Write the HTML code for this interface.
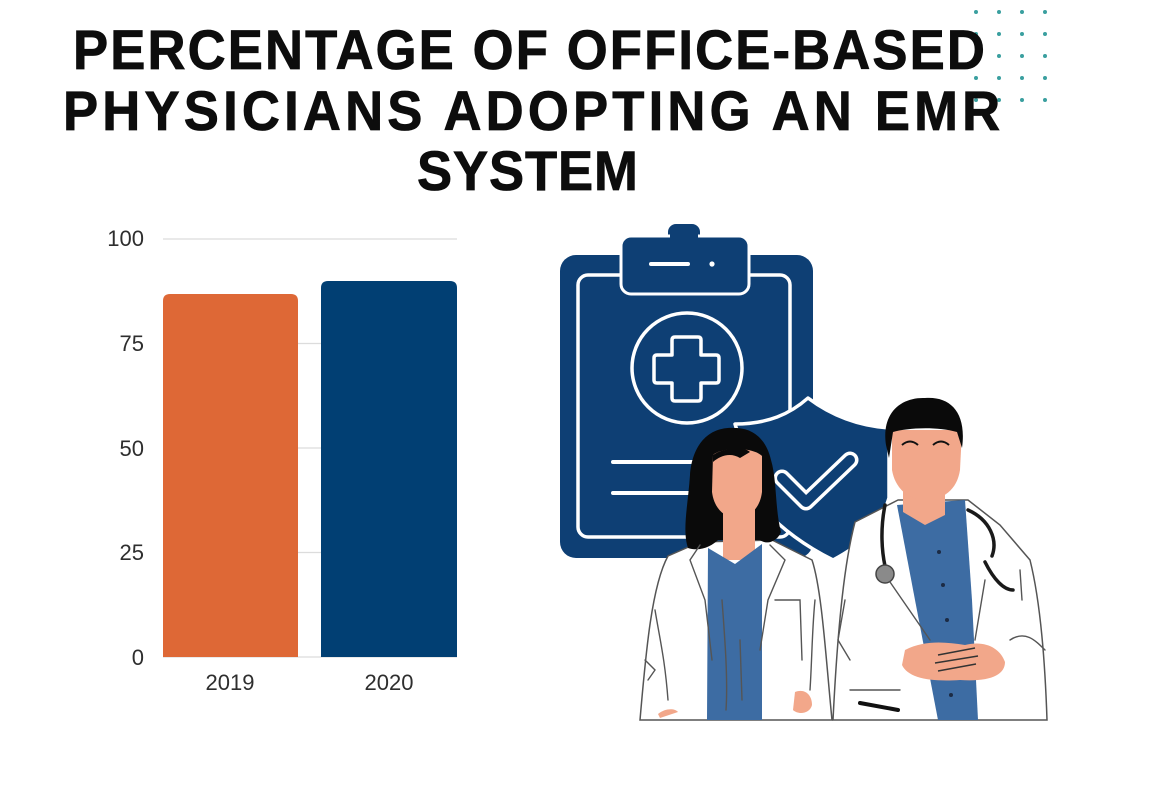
<!DOCTYPE html>
<html>
<head>
<meta charset="utf-8">
<style>
  html,body{margin:0;padding:0;background:#ffffff;}
  body{width:1166px;height:800px;overflow:hidden;}
  svg{display:block;}
  .t{font-family:"Liberation Sans",Arial,sans-serif;font-weight:bold;fill:#0d0d0d;font-size:56px;stroke:#0d0d0d;stroke-width:0.8px;}
  .ax{font-family:"Liberation Sans",Arial,sans-serif;font-size:22px;fill:#2e2e2e;}
</style>
</head>
<body>
<svg width="1166" height="800" viewBox="0 0 1166 800" xmlns="http://www.w3.org/2000/svg">
  <rect width="1166" height="800" fill="#ffffff"/>

  <!-- teal dots -->
  <g fill="#3a9f9f">
    <circle cx="976" cy="12" r="2"/><circle cx="999" cy="12" r="2"/><circle cx="1022" cy="12" r="2"/><circle cx="1045" cy="12" r="2"/>
    <circle cx="976" cy="34" r="2"/><circle cx="999" cy="34" r="2"/><circle cx="1022" cy="34" r="2"/><circle cx="1045" cy="34" r="2"/>
    <circle cx="976" cy="56" r="2"/><circle cx="999" cy="56" r="2"/><circle cx="1022" cy="56" r="2"/><circle cx="1045" cy="56" r="2"/>
    <circle cx="976" cy="78" r="2"/><circle cx="999" cy="78" r="2"/><circle cx="1022" cy="78" r="2"/><circle cx="1045" cy="78" r="2"/>
    <circle cx="976" cy="100" r="2"/><circle cx="999" cy="100" r="2"/><circle cx="1022" cy="100" r="2"/><circle cx="1045" cy="100" r="2"/>
  </g>

  <!-- title -->
  <g transform="scale(0.94,1)">
    <text class="t" x="77.7" y="69" textLength="970" lengthAdjust="spacing">PERCENTAGE OF OFFICE-BASED</text>
    <text class="t" x="67.0" y="130" textLength="997" lengthAdjust="spacing">PHYSICIANS ADOPTING AN EMR</text>
    <text class="t" x="443.6" y="190" textLength="235" lengthAdjust="spacing">SYSTEM</text>
  </g>

  <!-- chart gridlines -->
  <g stroke="#dcdcdc" stroke-width="1.2">
    <line x1="163" y1="239" x2="457" y2="239"/>
    <line x1="163" y1="343.5" x2="457" y2="343.5"/>
    <line x1="163" y1="448" x2="457" y2="448"/>
    <line x1="163" y1="552.5" x2="457" y2="552.5"/>
    <line x1="163" y1="657" x2="457" y2="657"/>
  </g>
  <!-- bars -->
  <path d="M163 657 L163 301 Q163 294 170 294 L291 294 Q298 294 298 301 L298 657 Z" fill="#de6836"/>
  <path d="M321 657 L321 288 Q321 281 328 281 L450 281 Q457 281 457 288 L457 657 Z" fill="#013f73"/>

  <!-- y labels -->
  <g class="ax" text-anchor="end">
    <text x="144" y="246">100</text>
    <text x="144" y="351">75</text>
    <text x="144" y="456">50</text>
    <text x="144" y="560">25</text>
    <text x="144" y="665">0</text>
  </g>
  <g class="ax" text-anchor="middle">
    <text x="230" y="690">2019</text>
    <text x="389" y="690">2020</text>
  </g>

  <!-- clipboard -->
  <rect x="560" y="255" width="253" height="303" rx="16" fill="#0e3f74"/>
  <rect x="578" y="275" width="212" height="262" rx="10" fill="none" stroke="#ffffff" stroke-width="3.5"/>
  <rect x="668" y="224" width="32" height="22" rx="8" fill="#0e3f74"/>
  <rect x="621" y="236" width="128" height="58" rx="10" fill="#0e3f74" stroke="#ffffff" stroke-width="3"/>
  <rect x="670" y="230" width="28" height="10" fill="#0e3f74"/>
  <line x1="651" y1="264" x2="688" y2="264" stroke="#ffffff" stroke-width="4" stroke-linecap="round"/>
  <circle cx="712" cy="264" r="2.6" fill="#ffffff"/>
  <circle cx="687" cy="368" r="55" fill="none" stroke="#ffffff" stroke-width="3.5"/>
  <path d="M672 340 Q672 337 675 337 L698 337 Q701 337 701 340 L701 355 L716 355 Q719 355 719 358 L719 380 Q719 383 716 383 L701 383 L701 398 Q701 401 698 401 L675 401 Q672 401 672 398 L672 383 L657 383 Q654 383 654 380 L654 358 Q654 355 657 355 L672 355 Z" fill="none" stroke="#ffffff" stroke-width="3.5" stroke-linejoin="round"/>
  <line x1="613" y1="462" x2="705" y2="462" stroke="#ffffff" stroke-width="4" stroke-linecap="round"/>
  <line x1="613" y1="493" x2="705" y2="493" stroke="#ffffff" stroke-width="4" stroke-linecap="round"/>

  <!-- shield -->
  <path d="M735 424 C768 424 790 414 808 398 C832 416 860 426 889 428 L889 498 C880 528 860 546 833 560 C805 546 780 528 760 505 Z" fill="#0e3f74" stroke="#ffffff" stroke-width="3.5" stroke-linejoin="round"/>
  <polyline points="782,478 806,502 850,460" fill="none" stroke="#ffffff" stroke-width="17" stroke-linecap="round" stroke-linejoin="round"/>
  <polyline points="782,478 806,502 850,460" fill="none" stroke="#0e3f74" stroke-width="10" stroke-linecap="round" stroke-linejoin="round"/>

  <!-- woman -->
  <path d="M700 542 L668 556 C652 585 646 650 640 720 L832 720 C826 660 822 590 812 560 L772 540 Z" fill="#ffffff" stroke="#555" stroke-width="1.5"/>
  <path d="M735 428 C706 426 692 448 690 475 C688 505 682 530 688 548 C700 552 712 546 718 540 L760 540 C768 546 778 540 781 532 C775 510 777 480 771 460 C766 438 752 428 735 428 Z" fill="#0a0a0a"/>
  <rect x="723" y="500" width="32" height="60" fill="#f2a78a"/>
  <path d="M713 455 C720 448 752 446 762 456 L762 492 C760 508 750 518 737 518 C724 518 714 508 712 492 Z" fill="#f2a78a"/>
  <path d="M713 455 C722 448 745 446 750 452 L740 458 C730 452 720 456 713 462 Z" fill="#0a0a0a"/>
  <path d="M708 548 L735 564 L762 544 L762 720 L707 720 Z" fill="#3d6ca3"/>
  <g fill="none" stroke="#555" stroke-width="1.4" stroke-linecap="round">
    <path d="M700 545 L690 560 L705 600 L712 660"/>
    <path d="M770 545 L785 560 L768 600 L760 650"/>
    <path d="M775 600 L800 600 L802 660"/>
    <path d="M655 610 C660 640 665 660 668 700"/>
    <path d="M645 660 L655 670 L648 680"/>
    <path d="M815 600 C812 630 812 660 810 690"/>
    <path d="M722 600 C725 640 728 680 726 710"/>
    <path d="M740 640 L742 700"/>
  </g>
  <path d="M795 692 C805 688 812 695 812 705 C810 714 798 715 793 710 Z" fill="#f2a78a"/>
  <path d="M658 714 C665 708 675 708 678 712 L660 718 Z" fill="#f2a78a"/>

  <!-- man -->
  <path d="M898 500 L855 522 C845 560 838 620 833 720 L1047 720 C1045 660 1040 600 1030 560 L1000 525 L968 500 Z" fill="#ffffff" stroke="#555" stroke-width="1.5"/>
  <path d="M897 505 L965 500 L972 600 L978 720 L938 720 L915 600 Z" fill="#3d6ca3"/>
  <path d="M903 478 L945 478 L945 515 L925 525 L903 512 Z" fill="#f2a78a"/>
  <path d="M892 430 L962 430 L960 470 C957 490 943 500 925 500 C908 500 895 488 892 470 Z" fill="#f2a78a"/>
  <path d="M886 445 C881 412 902 397 925 398 C950 396 967 412 962 448 L957 432 C936 426 906 428 893 432 L889 458 Z" fill="#0a0a0a"/>
  <path d="M902 445 Q910 438 918 445 M933 445 Q941 438 949 445" fill="none" stroke="#111" stroke-width="2"/>
  <g fill="none" stroke="#1a1a1a" stroke-width="3.5" stroke-linecap="round">
    <path d="M885 505 C880 530 882 552 885 566"/>
    <path d="M968 510 C990 520 998 540 992 556"/>
    <path d="M985 562 C994 580 1004 590 1013 590"/>
  </g>
  <circle cx="885" cy="574" r="9" fill="#8a8a8a" stroke="#444" stroke-width="1.5"/>
  <g fill="none" stroke="#555" stroke-width="1.4" stroke-linecap="round">
    <path d="M890 582 L930 640"/>
    <path d="M985 580 L975 640"/>
    <path d="M845 600 L838 640 L850 660"/>
    <path d="M1020 570 L1022 600"/>
    <path d="M1010 640 C1025 630 1035 640 1045 650"/>
    <path d="M850 690 L900 690"/>
  </g>
  <g fill="#1c2b44">
    <circle cx="939" cy="552" r="2"/><circle cx="943" cy="585" r="2"/><circle cx="947" cy="620" r="2"/><circle cx="951" cy="695" r="2"/>
  </g>
  <path d="M905 650 C925 640 945 642 965 645 C985 640 1000 648 1005 662 C1005 675 990 682 960 680 C930 682 908 678 902 665 Z" fill="#f2a78a"/>
  <g fill="none" stroke="#333" stroke-width="1.4">
    <path d="M938 655 L975 648 M935 663 L978 656 M938 671 L976 664"/>
  </g>
  <line x1="860" y1="703" x2="898" y2="710" stroke="#111" stroke-width="4" stroke-linecap="round"/>
</svg>
</body>
</html>
